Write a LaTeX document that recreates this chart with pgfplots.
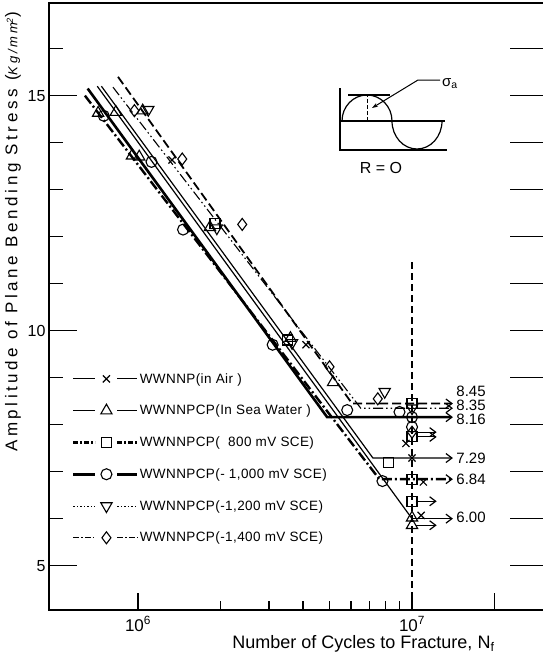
\documentclass[border=0pt]{standalone}
\usepackage{fontspec}
\setmainfont{Liberation Sans}
\usepackage{pgfplots}
\pgfplotsset{compat=1.18}
\usepackage{pgfplotstable}
\usetikzlibrary{arrows.meta}

\tikzset{myarr/.style={-{Straight Barb[length=6pt,width=9pt,line width=1.2pt]}}}

\pgfplotstableread{
x y
1.33e6 13.63
4.1e6 9.70
9.5e6 7.60
1e7 7.29
1.1e7 6.78
1.08e7 6.07
}\dataX
\pgfplotstableread{
x y
7.15e5 14.63
8.3e5 14.65
1.04e6 14.68
9.5e5 13.72
1.01e6 13.70
1.83e6 12.20
3.6e6 9.84
5.15e6 8.90
1e7 6.02
1e7 5.86
}\dataT
\pgfplotstableread{
x y
1.91e6 12.28
3.5e6 9.80
8.2e6 7.20
1e7 8.45
1e7 6.84
1e7 6.37
1e7 7.74
}\dataS
\pgfplotstableread{
x y
7.5e5 14.57
1.12e6 13.59
1.46e6 12.15
3.1e6 9.70
5.8e6 8.31
9.0e6 8.27
7.8e6 6.80
1e7 8.16
1e7 7.95
}\dataO
\pgfplotstableread{
x y
1.09e6 14.70
1.94e6 12.18
3.65e6 9.74
7.95e6 8.70
1e7 8.35
}\dataV
\pgfplotstableread{
x y
9.7e5 14.68
1.45e6 13.65
2.4e6 12.26
5.0e6 9.23
7.5e6 8.55
1e7 7.84
}\dataD

\begin{document}
\begin{tikzpicture}
\path[use as bounding box] (0pt,0pt) rectangle (543pt,-653pt);
% left y ticks
\begin{axis}[at={(49pt,-610pt)}, anchor=south west, scale only axis,
  width=496pt, height=607pt, xmin=4.733e5, xmax=3.058e7, ymin=4.057, ymax=16.97,
  xmode=log, hide x axis, axis y line*=left, y axis line style={draw=none},
  tick align=inside, ytick={5,10,15}, yticklabels={5,10,15},
  minor ytick={6,7,8,9,11,12,13,14,16},
  major tick length=28pt, minor tick length=14pt, tick style={black,line width=1.6pt},
  yticklabel style={font=\fontsize{16}{16}\selectfont}]
\addplot[draw=none, forget plot] coordinates {(1e6,10)};
\end{axis}
% right y ticks
\begin{axis}[at={(49pt,-610pt)}, anchor=south west, scale only axis,
  width=496pt, height=607pt, xmin=4.733e5, xmax=3.058e7, ymin=4.057, ymax=16.97,
  xmode=log, hide x axis, axis y line*=right, y axis line style={draw=none},
  tick align=inside, ytick={5,6,7,8,9,10,11,12,13,14,15,16}, yticklabels={},
  major tick length=35pt, tick style={black,line width=1.6pt}]
\addplot[draw=none, forget plot] coordinates {(1e6,10)};
\end{axis}
% main axis
\begin{axis}[at={(49pt,-610pt)}, anchor=south west, scale only axis,
  width=496pt, height=607pt, xmin=4.733e5, xmax=3.058e7, ymin=4.057, ymax=16.97,
  xmode=log, axis line style={line width=2.5pt},
  xtick={1e6,1e7,2e7}, xticklabels={10\textsuperscript{6},10\textsuperscript{7},{}},
  minor xtick={2e6,3e6,4e6,5e6,6e6,7e6,8e6,9e6},
  xtick pos=bottom, ytick=\empty, tick align=inside,
  major tick length=17pt, minor tick length=9pt, tick style={black,line width=1.6pt},
  xticklabel style={font=\fontsize{17}{17}\selectfont, anchor=base, yshift=-21pt},
  clip=false,
  xlabel={Number of Cycles to Fracture, N\textsubscript{f}},
  xlabel style={at={(rel axis cs:0.634,0)}, anchor=base, yshift=-38pt, font=\fontsize{18}{18}\selectfont},
  ylabel={Amplitude of Plane Bending Stress ({\fontsize{13}{13}\selectfont\itshape Kg/mm\textsuperscript{2}})},
  ylabel style={at={(rel axis cs:0,0.623)}, anchor=center, yshift=36pt,
    font={\fontsize{17}{17}\selectfont\addfontfeatures{LetterSpace=21}}},
  legend style={at={(rel axis cs:0.046,0.392)}, anchor=north west, draw=none, fill=none,
    inner sep=0pt, row sep=18.5pt, nodes={inner sep=1pt},
    font={\fontsize{13.5}{14}\selectfont\addfontfeatures{LetterSpace=3}}},
  legend cell align=left,
  legend image code/.code={
    \draw[#1] (0pt,0pt) -- (22pt,0pt);
    \draw[#1] (44pt,0pt) -- (64pt,0pt);
    \draw[#1,only marks] plot coordinates {(33pt,0pt)};
  },
]
% vertical line at 10^7
\addplot[forget plot, black, line width=1.2pt, dash pattern=on 7pt off 4pt] coordinates {(1e7,11.45) (1e7,4.057)};

% S-N lines
\addplot[forget plot, black, line width=2.6pt, myarr] coordinates {(6.55e5,15.15) (4.9e6,8.16) (1.41e7,8.16)};
\addplot[forget plot, black, line width=1.2pt] coordinates {(7.1e5,15.2) (1e7,6.0)};
\addplot[forget plot, black, line width=1.1pt, myarr] coordinates {(1e7,6.0) (1.41e7,6.0)};
\addplot[forget plot, black, line width=1.2pt, myarr] coordinates {(7.35e5,15.2) (7.2e6,7.29) (1.41e7,7.29)};
\addplot[forget plot, black, line width=2.4pt, dash pattern=on 10pt off 3pt on 2pt off 3pt, myarr] coordinates {(6.4e5,15.0) (7.6e6,6.84) (1.41e7,6.84)};
\addplot[forget plot, black, line width=1.1pt, dash pattern=on 10pt off 3pt on 1.5pt off 3pt on 1.5pt off 3pt, myarr] coordinates {(8.1e5,15.18) (6.5e6,8.35) (1.41e7,8.35)};
\addplot[forget plot, black, line width=1.8pt, dash pattern=on 9pt off 4pt, myarr] coordinates {(8.45e5,15.4) (6.04e6,8.45) (1.41e7,8.45)};

% short run-out arrows
\addplot[forget plot, black, line width=1.1pt, myarr] coordinates {(1.03e7,7.84) (1.23e7,7.84)};
\addplot[forget plot, black, line width=1.1pt, myarr] coordinates {(1.03e7,7.74) (1.23e7,7.74)};
\addplot[forget plot, black, line width=1.1pt, myarr] coordinates {(1.03e7,6.37) (1.23e7,6.37)};
\addplot[forget plot, black, line width=1.1pt, myarr] coordinates {(1.03e7,5.86) (1.23e7,5.86)};

% markers
\addplot[forget plot, only marks, mark=x, mark size=5pt, mark options={line width=1.2pt}] table {\dataX};
\addplot[forget plot, only marks, mark=triangle, mark size=6.5pt, mark options={line width=1.1pt, fill=white}] table {\dataT};
\addplot[forget plot, only marks, mark=square, mark size=5pt, mark options={line width=1.1pt, fill=white}] table {\dataS};
\addplot[forget plot, only marks, mark=o, mark size=5.5pt, mark options={line width=1.1pt, fill=white}] table {\dataO};
\addplot[forget plot, only marks, mark=triangle, mark size=6.5pt, mark options={line width=1.1pt, fill=white, rotate=180}] table {\dataV};
\addplot[forget plot, only marks, mark=diamond, mark size=6pt, mark options={line width=1.1pt, fill=white}] table {\dataD};

% limit labels
\node[anchor=west, inner sep=0pt, font=\fontsize{15}{15}\selectfont] at (axis cs:1.45e7,8.70) {8.45};
\node[anchor=west, inner sep=0pt, font=\fontsize{15}{15}\selectfont] at (axis cs:1.45e7,8.41) {8.35};
\node[anchor=west, inner sep=0pt, font=\fontsize{15}{15}\selectfont] at (axis cs:1.45e7,8.12) {8.16};
\node[anchor=west, inner sep=0pt, font=\fontsize{15}{15}\selectfont] at (axis cs:1.45e7,7.29) {7.29};
\node[anchor=west, inner sep=0pt, font=\fontsize{15}{15}\selectfont] at (axis cs:1.45e7,6.84) {6.84};
\node[anchor=west, inner sep=0pt, font=\fontsize{15}{15}\selectfont] at (axis cs:1.45e7,6.02) {6.00};

% legend
\addlegendimage{black, line width=1.1pt, mark=x, mark size=5pt, mark options={solid, line width=1.2pt}}
\addlegendentry{WWNNP(in Air )}
\addlegendimage{black, line width=1.1pt, mark=triangle, mark size=6.5pt, mark options={solid, line width=1.1pt, fill=white}}
\addlegendentry{WWNNPCP(In Sea Water )}
\addlegendimage{black, line width=2.4pt, dash pattern=on 5pt off 2pt on 2pt off 2pt, mark=square, mark size=5pt, mark options={solid, line width=1.1pt, fill=white}}
\addlegendentry{WWNNPCP(\ \ 800 mV SCE)}
\addlegendimage{black, line width=2.8pt, mark=o, mark size=5.5pt, mark options={solid, line width=1.1pt, fill=white}}
\addlegendentry{WWNNPCP(-\ 1,000 mV SCE)}
\addlegendimage{black, line width=1pt, dash pattern=on 1.5pt off 2pt, mark=triangle, mark size=6.5pt, mark options={solid, line width=1.1pt, fill=white, rotate=180}}
\addlegendentry{WWNNPCP(-1,200 mV SCE)}
\addlegendimage{black, line width=1pt, dash pattern=on 6pt off 2pt on 1.5pt off 2pt, mark=diamond, mark size=6pt, mark options={solid, line width=1.1pt, fill=white}}
\addlegendentry{WWNNPCP(-1,400 mV SCE)}
\end{axis}

% inset diagram R = 0
\draw[line width=1.4pt] (340pt,-88pt) -- (340pt,-150pt) -- (447pt,-150pt);
\draw[line width=1.2pt] (340pt,-121pt) -- (445pt,-121pt);
\draw[line width=1.2pt] (348pt,-95pt) -- (390pt,-95pt);
\draw[line width=1.2pt] (342pt,-121pt) arc[start angle=180, end angle=0, x radius=25pt, y radius=26pt]
   arc[start angle=180, end angle=360, x radius=25pt, y radius=28pt];
\draw[line width=1pt, dash pattern=on 4pt off 2pt] (367pt,-121pt) -- (367pt,-96pt);
\draw[line width=1pt, -{Stealth[length=6pt,width=4pt]}] (440pt,-80pt) -- (418pt,-80pt) -- (372pt,-108pt);
\node[anchor=west, font=\fontsize{15}{15}\selectfont, inner sep=1pt] at (441pt,-84pt) {σ\textsubscript{a}};
\node[font=\fontsize{16}{16}\selectfont] at (381pt,-168pt) {R = O};
\end{tikzpicture}
\end{document}
